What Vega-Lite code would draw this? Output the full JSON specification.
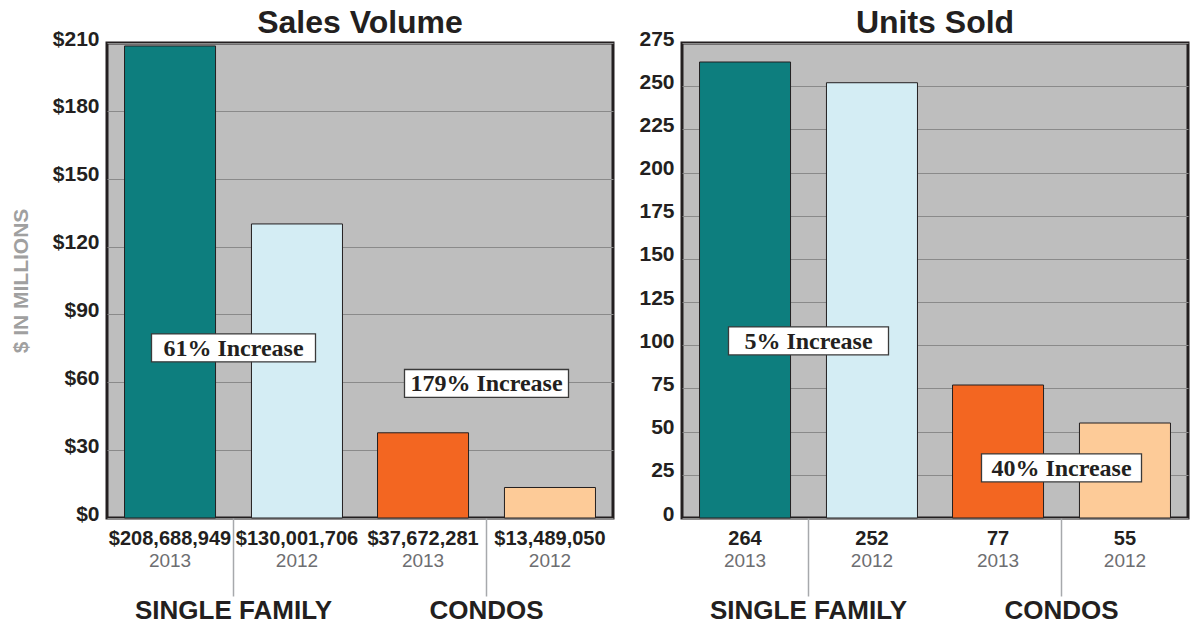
{
  "$schema": "https://vega.github.io/schema/vega-lite/v6.json",
  "padding": {"left": 8, "top": 5, "right": 0, "bottom": 0},
  "background": "white",
  "spacing": 22,
  "config": {
    "font": "Liberation Sans",
    "view": {"fill": "#bebebe", "stroke": "#231f20", "strokeWidth": 3},
    "title": {"fontSize": 32, "fontWeight": "bold", "color": "#231f20", "offset": -12, "anchor": "middle"}
  },
  "hconcat": [
    {
      "width": 506,
      "height": 475,
      "title": "Sales Volume",
      "data": {
        "values": [
          {"group": "SINGLE FAMILY", "year": "2013", "series": "SF2013", "millions": 208.688949, "dollars": 208688949},
          {"group": "SINGLE FAMILY", "year": "2012", "series": "SF2012", "millions": 130.001706, "dollars": 130001706},
          {"group": "CONDOS", "year": "2013", "series": "C2013", "millions": 37.672281, "dollars": 37672281},
          {"group": "CONDOS", "year": "2012", "series": "C2012", "millions": 13.48905, "dollars": 13489050}
        ]
      },
      "encoding": {
        "x": {
          "field": "group", "type": "nominal", "sort": ["SINGLE FAMILY", "CONDOS"],
          "scale": {"paddingInner": 0, "paddingOuter": 0},
          "axis": {"title": null, "labelAngle": 0, "labelFontSize": 26, "labelFontWeight": "bold", "labelColor": "#231f20", "labelPadding": 1, "labelLimit": 400, "tickSize": 78, "tickColor": "#a7a9ac", "tickWidth": 1.5, "domain": false, "bandPosition": 0.5}
        }
      },
      "layer": [
        {
          "mark": {"type": "bar", "stroke": "#231f20", "strokeWidth": 1},
          "encoding": {
            "xOffset": {"field": "year", "type": "nominal", "sort": ["2013", "2012"], "scale": {"paddingInner": 0.283, "paddingOuter": 0.138}},
            "y": {
              "field": "millions", "type": "quantitative",
              "scale": {"domain": [0, 210], "nice": false},
              "axis": {"title": "$ IN MILLIONS", "titleFontSize": 21, "titleFontWeight": "bold", "titleColor": "#a0a0a0", "titlePadding": 21, "values": [0, 30, 60, 90, 120, 150, 180, 210], "format": "$d", "labelFontSize": 21, "labelFontWeight": "bold", "labelColor": "#231f20", "labelPadding": 8, "labelOffset": -4, "ticks": false, "domain": false, "grid": true, "gridColor": "#8a8a8a", "gridWidth": 1}
            },
            "color": {"field": "series", "type": "nominal", "legend": null, "scale": {"domain": ["SF2013", "SF2012", "C2013", "C2012"], "range": ["#0d7e7e", "#d4edf4", "#f36621", "#fdcb98"]}}
          }
        },
        {
          "mark": {"type": "text", "dy": 21, "fontSize": 20, "fontWeight": "bold", "color": "#231f20", "baseline": "middle"},
          "encoding": {
            "xOffset": {"field": "year", "type": "nominal", "sort": ["2013", "2012"]},
            "y": {"datum": 0},
            "text": {"field": "dollars", "type": "quantitative", "format": "$,"}
          }
        },
        {
          "mark": {"type": "text", "dy": 43, "fontSize": 19, "color": "#6d6e71", "baseline": "middle"},
          "encoding": {
            "xOffset": {"field": "year", "type": "nominal", "sort": ["2013", "2012"]},
            "y": {"datum": 0},
            "text": {"field": "year", "type": "nominal"}
          }
        },
        {
          "data": {"values": [
            {"group": "SINGLE FAMILY", "pos": 75.2, "note": "61% Increase"},
            {"group": "CONDOS", "pos": 59.5, "note": "179% Increase"}
          ]},
          "mark": {"type": "point", "shape": "M -1 -0.17 L 1 -0.17 L 1 0.17 L -1 0.17 Z", "size": 26896, "filled": true, "fill": "white", "stroke": "#3a3a3a", "strokeWidth": 1.3, "opacity": 1, "fillOpacity": 1, "strokeOpacity": 1},
          "encoding": {"y": {"field": "pos", "type": "quantitative"}}
        },
        {
          "data": {"values": [
            {"group": "SINGLE FAMILY", "pos": 75.2, "note": "61% Increase"},
            {"group": "CONDOS", "pos": 59.5, "note": "179% Increase"}
          ]},
          "mark": {"type": "text", "font": "Liberation Serif", "fontWeight": "bold", "fontSize": 24, "color": "#231f20", "baseline": "middle", "dy": 1},
          "encoding": {"y": {"field": "pos", "type": "quantitative"}, "text": {"field": "note"}}
        }
      ]
    },
    {
      "width": 506,
      "height": 475,
      "title": "Units Sold",
      "data": {
        "values": [
          {"group": "SINGLE FAMILY", "year": "2013", "series": "SF2013", "units": 264},
          {"group": "SINGLE FAMILY", "year": "2012", "series": "SF2012", "units": 252},
          {"group": "CONDOS", "year": "2013", "series": "C2013", "units": 77},
          {"group": "CONDOS", "year": "2012", "series": "C2012", "units": 55}
        ]
      },
      "encoding": {
        "x": {
          "field": "group", "type": "nominal", "sort": ["SINGLE FAMILY", "CONDOS"],
          "scale": {"paddingInner": 0, "paddingOuter": 0},
          "axis": {"title": null, "labelAngle": 0, "labelFontSize": 26, "labelFontWeight": "bold", "labelColor": "#231f20", "labelPadding": 1, "labelLimit": 400, "tickSize": 78, "tickColor": "#a7a9ac", "tickWidth": 1.5, "domain": false, "bandPosition": 0.5}
        }
      },
      "layer": [
        {
          "mark": {"type": "bar", "stroke": "#231f20", "strokeWidth": 1},
          "encoding": {
            "xOffset": {"field": "year", "type": "nominal", "sort": ["2013", "2012"], "scale": {"paddingInner": 0.285, "paddingOuter": 0.115}},
            "y": {
              "field": "units", "type": "quantitative",
              "scale": {"domain": [0, 275], "nice": false},
              "axis": {"title": null, "values": [0, 25, 50, 75, 100, 125, 150, 175, 200, 225, 250, 275], "format": "d", "labelFontSize": 21, "labelFontWeight": "bold", "labelColor": "#231f20", "labelPadding": 8, "labelOffset": -4, "ticks": false, "domain": false, "grid": true, "gridColor": "#8a8a8a", "gridWidth": 1}
            },
            "color": {"field": "series", "type": "nominal", "legend": null, "scale": {"domain": ["SF2013", "SF2012", "C2013", "C2012"], "range": ["#0d7e7e", "#d4edf4", "#f36621", "#fdcb98"]}}
          }
        },
        {
          "mark": {"type": "text", "dy": 21, "fontSize": 20, "fontWeight": "bold", "color": "#231f20", "baseline": "middle"},
          "encoding": {
            "xOffset": {"field": "year", "type": "nominal", "sort": ["2013", "2012"]},
            "y": {"datum": 0},
            "text": {"field": "units", "type": "quantitative"}
          }
        },
        {
          "mark": {"type": "text", "dy": 43, "fontSize": 19, "color": "#6d6e71", "baseline": "middle"},
          "encoding": {
            "xOffset": {"field": "year", "type": "nominal", "sort": ["2013", "2012"]},
            "y": {"datum": 0},
            "text": {"field": "year", "type": "nominal"}
          }
        },
        {
          "data": {"values": [
            {"group": "SINGLE FAMILY", "pos": 102.5, "note": "5% Increase"},
            {"group": "CONDOS", "pos": 29, "note": "40% Increase"}
          ]},
          "mark": {"type": "point", "shape": "M -1 -0.175 L 1 -0.175 L 1 0.175 L -1 0.175 Z", "size": 25600, "filled": true, "fill": "white", "stroke": "#3a3a3a", "strokeWidth": 1.3, "opacity": 1, "fillOpacity": 1, "strokeOpacity": 1},
          "encoding": {"y": {"field": "pos", "type": "quantitative"}}
        },
        {
          "data": {"values": [
            {"group": "SINGLE FAMILY", "pos": 102.5, "note": "5% Increase"},
            {"group": "CONDOS", "pos": 29, "note": "40% Increase"}
          ]},
          "mark": {"type": "text", "font": "Liberation Serif", "fontWeight": "bold", "fontSize": 24, "color": "#231f20", "baseline": "middle", "dy": 1},
          "encoding": {"y": {"field": "pos", "type": "quantitative"}, "text": {"field": "note"}}
        }
      ]
    }
  ]
}
